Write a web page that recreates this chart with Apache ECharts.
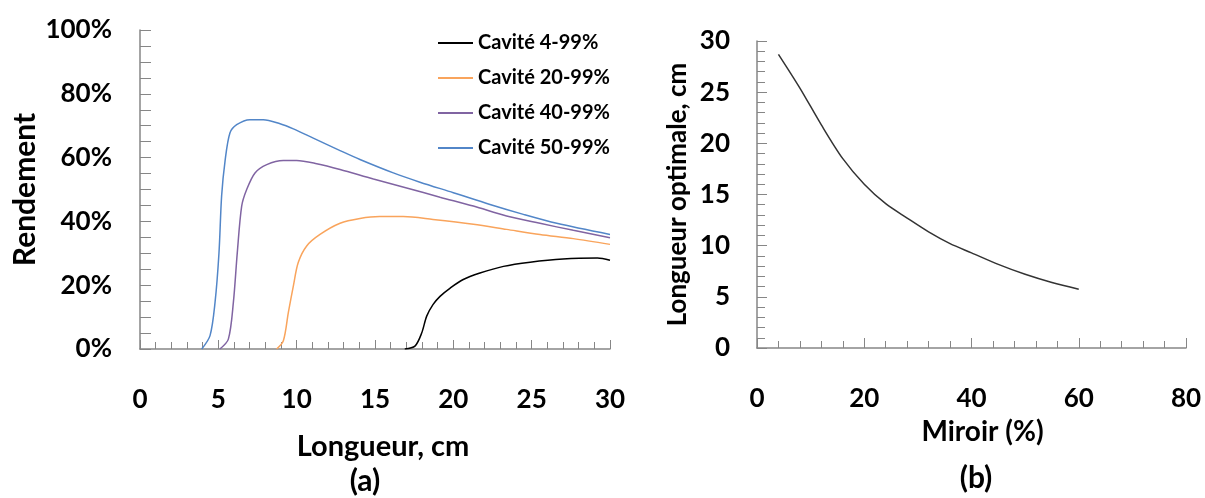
<!DOCTYPE html>
<html>
<head>
<meta charset="utf-8">
<script src="https://cdn.jsdelivr.net/npm/echarts@6/dist/echarts.min.js"></script>
<style>
  html, body { margin: 0; padding: 0; background: #fff; }
  #chart { width: 1205px; height: 498px; }
</style>
</head>
<body>
<div id="chart"></div>
<script>
// series names (legend order)
var seriesNames = ['Cavité 4-99%', 'Cavité 20-99%', 'Cavité 40-99%', 'Cavité 50-99%'];

// (a) rendement (%) vs longueur (cm)
var cav4 = [[16.9, 0], [17.55, 0.9], [17.98, 5], [18.3, 10.3], [18.7, 13.9], [19.15, 16.5],
    [19.8, 19.1], [20.6, 21.7], [21.7, 23.8], [23.2, 25.9], [24.9, 27.2], [27.0, 28.2],
    [29.2, 28.5], [30, 27.8]];
var cav20 = [[8.72, 0], [9.15, 2.6], [9.47, 11.5], [9.79, 19.8], [10.1, 27.1], [10.64, 32.3],
    [11.49, 35.9], [12.77, 39.4], [14.04, 40.9], [15.3, 41.5], [16.8, 41.5], [18.7, 40.6],
    [21.28, 39.1], [23.4, 37.5], [25.53, 35.9], [27.66, 34.6], [30, 32.8]];
var cav40 = [[5.1, 0], [5.64, 3.1], [5.96, 14.6], [6.21, 30.2], [6.49, 44.8], [6.81, 50],
    [7.34, 55.2], [8.09, 57.8], [9.15, 59.1], [10, 59.1], [11.28, 58.1], [12.77, 56.3],
    [14.9, 53.3], [17.02, 50.5], [19.15, 47.6], [21.28, 44.8], [23.4, 41.7], [25.53, 39.4],
    [27.66, 37.2], [30, 34.9]];
var cav50 = [[3.94, 0], [4.47, 4.2], [4.79, 14.6], [5.04, 30], [5.21, 48], [5.43, 59],
    [5.74, 67.7], [6.17, 70.3], [7.02, 71.9], [7.87, 71.9], [8.94, 70.6], [9.79, 69],
    [11.06, 66.1], [12.77, 62.2], [14.04, 59.4], [16.17, 55.2], [17.87, 52.3], [20, 49],
    [22.34, 45.3], [24.47, 42.2], [26.6, 39.4], [30, 35.9]];

// (b) longueur optimale (cm) vs miroir (%)
var miroir = [4, 8, 12, 16, 20, 24, 28, 32, 36, 40, 45, 50, 55, 60];
var longueurOpt = [28.7, 25.4, 21.8, 18.5, 16.0, 14.1, 12.7, 11.35, 10.2, 9.3, 8.17, 7.2, 6.4, 5.75];

var colors = ['#000000', '#f9a45c', '#8064a2', '#5286c8'];

function draw() {
    var myChart = echarts.init(document.getElementById('chart'));

    var font = 'Lato';
    var axisGray = '#868686';

    var lbl = { color: '#000', fontFamily: font, fontWeight: 'bold', fontSize: 26 };
    function nameStyle(size) {
        return { color: '#000', fontFamily: font, fontWeight: 'bold', fontSize: size };
    }

    function line(name, data, color, xi) {
        return {
            name: name,
            type: 'line',
            xAxisIndex: xi,
            yAxisIndex: xi,
            data: data,
            symbol: 'none',
            smooth: 0.3,
            lineStyle: { color: color, width: 1.5 },
            itemStyle: { color: color },
            z: 3
        };
    }

    var option = {
        animation: false,
        backgroundColor: '#fff',
        title: [
            { text: '(a)', left: 365, top: 466, textAlign: 'center', padding: 0,
              textStyle: nameStyle(30) },
            { text: '(b)', left: 976, top: 463, textAlign: 'center', padding: 0,
              textStyle: nameStyle(30) }
        ],
        legend: {
            orient: 'vertical',
            left: 438,
            top: 31,
            padding: 0,
            itemWidth: 35,
            itemHeight: 2,
            itemGap: 11,
            icon: 'rect',
            data: seriesNames,
            textStyle: { color: '#000', fontFamily: font, fontWeight: 'bold',
                         fontSize: 20, lineHeight: 24 }
        },
        grid: [
            { left: 140, right: 595, top: 30, bottom: 149 },
            { left: 757, right: 19, top: 41, bottom: 150 }
        ],
        xAxis: [
            {
                type: 'value', gridIndex: 0, min: 0, max: 30, interval: 5,
                name: 'Longueur, cm', nameLocation: 'middle', nameGap: 83,
                nameTextStyle: Object.assign({ padding: [0, 0, 0, 16] }, nameStyle(29)),
                axisLine: { lineStyle: { color: axisGray, width: 1.5 } },
                axisTick: { inside: true, length: 9, lineStyle: { color: axisGray } },
                minorTick: { show: true, splitNumber: 5, length: 7, lineStyle: { color: axisGray } },
                axisLabel: Object.assign({ margin: 38 }, lbl),
                splitLine: { show: false }
            },
            {
                type: 'value', gridIndex: 1, min: 0, max: 80, interval: 20,
                name: 'Miroir (%)', nameLocation: 'middle', nameGap: 70,
                nameTextStyle: Object.assign({ padding: [0, 0, 0, 22] }, nameStyle(28)),
                axisLine: { lineStyle: { color: axisGray, width: 1.5 } },
                axisTick: { inside: true, length: 10, lineStyle: { color: axisGray } },
                minorTick: { show: true, splitNumber: 5, length: 7, lineStyle: { color: axisGray } },
                axisLabel: Object.assign({ margin: 38 }, lbl),
                splitLine: { show: false }
            }
        ],
        yAxis: [
            {
                type: 'value', gridIndex: 0, min: 0, max: 100, interval: 20,
                name: 'Rendement', nameLocation: 'middle', nameGap: 100,
                nameTextStyle: nameStyle(30),
                axisLine: { show: true, lineStyle: { color: axisGray, width: 1.5 } },
                axisTick: { show: true, inside: true, length: 11, lineStyle: { color: axisGray } },
                minorTick: { show: true, splitNumber: 4, length: 11, lineStyle: { color: axisGray } },
                axisLabel: Object.assign({ margin: 28, formatter: '{value}%' }, lbl),
                splitLine: { show: false }
            },
            {
                type: 'value', gridIndex: 1, min: 0, max: 30, interval: 5,
                name: 'Longueur optimale, cm', nameLocation: 'middle', nameGap: 66,
                nameTextStyle: nameStyle(26),
                axisLine: { show: true, lineStyle: { color: axisGray, width: 1.5 } },
                axisTick: { show: true, inside: true, length: 10, lineStyle: { color: axisGray } },
                minorTick: { show: true, splitNumber: 5, length: 8, lineStyle: { color: axisGray } },
                axisLabel: Object.assign({ margin: 27 }, lbl),
                splitLine: { show: false }
            }
        ],
        series: [
            line(seriesNames[0], cav4, colors[0], 0),
            line(seriesNames[1], cav20, colors[1], 0),
            line(seriesNames[2], cav40, colors[2], 0),
            line(seriesNames[3], cav50, colors[3], 0),
            {
                type: 'line',
                xAxisIndex: 1,
                yAxisIndex: 1,
                data: miroir.map(function (m, i) { return [m, longueurOpt[i]]; }),
                symbol: 'none',
                smooth: 0.3,
                lineStyle: { color: '#333', width: 1.5 }
            }
        ]
    };

    myChart.setOption(option);
}

draw();
</script>
</body>
</html>
